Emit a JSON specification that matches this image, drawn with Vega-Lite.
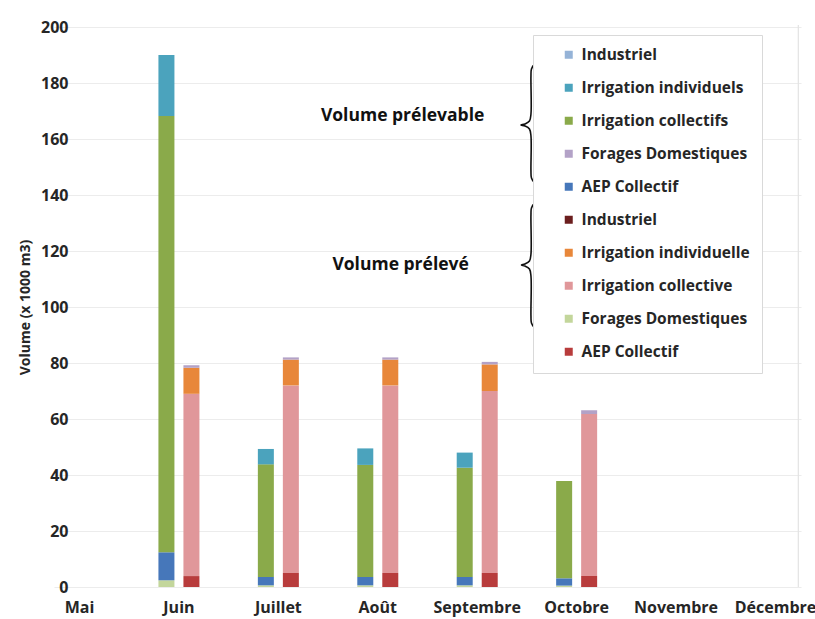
{
  "$schema": "https://vega.github.io/schema/vega-lite/v6.json",
  "width": 726,
  "height": 560,
  "autosize": {"type": "none"},
  "padding": {"left": 75, "top": 27, "right": 14, "bottom": 32},
  "background": "white",
  "config": {
    "view": {"stroke": null},
    "font": "Open Sans",
    "axis": {"labelFont": "Open Sans", "titleFont": "Open Sans"},
    "legend": {"labelFont": "Open Sans"}
  },
  "datasets": {
    "volumes": [
      {"mois": "Juin", "volume": "prélevable", "serie": "Forages Domestiques | prélevé", "valeur": 2.4},
      {"mois": "Juin", "volume": "prélevable", "serie": "AEP Collectif | prélevable", "valeur": 10.0},
      {"mois": "Juin", "volume": "prélevable", "serie": "Irrigation collectifs | prélevable", "valeur": 155.8},
      {"mois": "Juin", "volume": "prélevable", "serie": "Irrigation individuels | prélevable", "valeur": 21.8},
      {"mois": "Juillet", "volume": "prélevable", "serie": "Forages Domestiques | prélevé", "valeur": 0.6},
      {"mois": "Juillet", "volume": "prélevable", "serie": "AEP Collectif | prélevable", "valeur": 3.0},
      {"mois": "Juillet", "volume": "prélevable", "serie": "Irrigation collectifs | prélevable", "valeur": 40.2},
      {"mois": "Juillet", "volume": "prélevable", "serie": "Irrigation individuels | prélevable", "valeur": 5.5},
      {"mois": "Août", "volume": "prélevable", "serie": "Forages Domestiques | prélevé", "valeur": 0.6},
      {"mois": "Août", "volume": "prélevable", "serie": "AEP Collectif | prélevable", "valeur": 3.0},
      {"mois": "Août", "volume": "prélevable", "serie": "Irrigation collectifs | prélevable", "valeur": 40.0},
      {"mois": "Août", "volume": "prélevable", "serie": "Irrigation individuels | prélevable", "valeur": 5.9},
      {"mois": "Septembre", "volume": "prélevable", "serie": "Forages Domestiques | prélevé", "valeur": 0.6},
      {"mois": "Septembre", "volume": "prélevable", "serie": "AEP Collectif | prélevable", "valeur": 3.0},
      {"mois": "Septembre", "volume": "prélevable", "serie": "Irrigation collectifs | prélevable", "valeur": 39.0},
      {"mois": "Septembre", "volume": "prélevable", "serie": "Irrigation individuels | prélevable", "valeur": 5.4},
      {"mois": "Octobre", "volume": "prélevable", "serie": "Forages Domestiques | prélevé", "valeur": 0.5},
      {"mois": "Octobre", "volume": "prélevable", "serie": "AEP Collectif | prélevable", "valeur": 2.6},
      {"mois": "Octobre", "volume": "prélevable", "serie": "Irrigation collectifs | prélevable", "valeur": 34.8},
      {"mois": "Juin", "volume": "prélevé", "serie": "AEP Collectif | prélevé", "valeur": 3.9},
      {"mois": "Juin", "volume": "prélevé", "serie": "Irrigation collective | prélevé", "valeur": 65.1},
      {"mois": "Juin", "volume": "prélevé", "serie": "Irrigation individuelle | prélevé", "valeur": 9.3},
      {"mois": "Juin", "volume": "prélevé", "serie": "Forages Domestiques | prélevable", "valeur": 0.9},
      {"mois": "Juillet", "volume": "prélevé", "serie": "AEP Collectif | prélevé", "valeur": 5.0},
      {"mois": "Juillet", "volume": "prélevé", "serie": "Irrigation collective | prélevé", "valeur": 67.0},
      {"mois": "Juillet", "volume": "prélevé", "serie": "Irrigation individuelle | prélevé", "valeur": 9.2},
      {"mois": "Juillet", "volume": "prélevé", "serie": "Forages Domestiques | prélevable", "valeur": 0.8},
      {"mois": "Août", "volume": "prélevé", "serie": "AEP Collectif | prélevé", "valeur": 5.0},
      {"mois": "Août", "volume": "prélevé", "serie": "Irrigation collective | prélevé", "valeur": 67.0},
      {"mois": "Août", "volume": "prélevé", "serie": "Irrigation individuelle | prélevé", "valeur": 9.2},
      {"mois": "Août", "volume": "prélevé", "serie": "Forages Domestiques | prélevable", "valeur": 0.8},
      {"mois": "Septembre", "volume": "prélevé", "serie": "AEP Collectif | prélevé", "valeur": 5.0},
      {"mois": "Septembre", "volume": "prélevé", "serie": "Irrigation collective | prélevé", "valeur": 65.0},
      {"mois": "Septembre", "volume": "prélevé", "serie": "Irrigation individuelle | prélevé", "valeur": 9.5},
      {"mois": "Septembre", "volume": "prélevé", "serie": "Forages Domestiques | prélevable", "valeur": 0.9},
      {"mois": "Octobre", "volume": "prélevé", "serie": "AEP Collectif | prélevé", "valeur": 3.9},
      {"mois": "Octobre", "volume": "prélevé", "serie": "Irrigation collective | prélevé", "valeur": 57.9},
      {"mois": "Octobre", "volume": "prélevé", "serie": "Forages Domestiques | prélevable", "valeur": 1.3}
    ],
    "series": [
      {"serie": "Industriel | prélevable", "rang": 1},
      {"serie": "Irrigation individuels | prélevable", "rang": 2},
      {"serie": "Irrigation collectifs | prélevable", "rang": 3},
      {"serie": "Forages Domestiques | prélevable", "rang": 4},
      {"serie": "AEP Collectif | prélevable", "rang": 5},
      {"serie": "Industriel | prélevé", "rang": 6},
      {"serie": "Irrigation individuelle | prélevé", "rang": 7},
      {"serie": "Irrigation collective | prélevé", "rang": 8},
      {"serie": "Forages Domestiques | prélevé", "rang": 9},
      {"serie": "AEP Collectif | prélevé", "rang": 10}
    ],
    "accolades": [
      {"accolade": "prélevable", "k": 4.6314, "v": 187.14},
      {"accolade": "prélevable", "k": 4.5761, "v": 186.61},
      {"accolade": "prélevable", "k": 4.5459, "v": 185.0},
      {"accolade": "prélevable", "k": 4.5409, "v": 182.5},
      {"accolade": "prélevable", "k": 4.5409, "v": 168.93},
      {"accolade": "prélevable", "k": 4.5258, "v": 166.43},
      {"accolade": "prélevable", "k": 4.4805, "v": 165.36},
      {"accolade": "prélevable", "k": 4.4403, "v": 165.0},
      {"accolade": "prélevable", "k": 4.4805, "v": 164.64},
      {"accolade": "prélevable", "k": 4.5258, "v": 163.57},
      {"accolade": "prélevable", "k": 4.5409, "v": 161.07},
      {"accolade": "prélevable", "k": 4.5409, "v": 148.57},
      {"accolade": "prélevable", "k": 4.5459, "v": 146.07},
      {"accolade": "prélevable", "k": 4.5761, "v": 144.46},
      {"accolade": "prélevable", "k": 4.6314, "v": 143.93},
      {"accolade": "prélevé", "k": 4.6314, "v": 137.5},
      {"accolade": "prélevé", "k": 4.5761, "v": 136.96},
      {"accolade": "prélevé", "k": 4.5459, "v": 135.36},
      {"accolade": "prélevé", "k": 4.5409, "v": 132.86},
      {"accolade": "prélevé", "k": 4.5409, "v": 118.93},
      {"accolade": "prélevé", "k": 4.5258, "v": 116.43},
      {"accolade": "prélevé", "k": 4.4805, "v": 115.36},
      {"accolade": "prélevé", "k": 4.4453, "v": 115.0},
      {"accolade": "prélevé", "k": 4.4805, "v": 114.64},
      {"accolade": "prélevé", "k": 4.5258, "v": 113.57},
      {"accolade": "prélevé", "k": 4.5409, "v": 111.07},
      {"accolade": "prélevé", "k": 4.5409, "v": 96.79},
      {"accolade": "prélevé", "k": 4.5459, "v": 94.29},
      {"accolade": "prélevé", "k": 4.5761, "v": 92.68},
      {"accolade": "prélevé", "k": 4.6314, "v": 92.14}
    ]
  },
  "layer": [
    {
      "data": {"name": "volumes"},
      "transform": [
        {"lookup": "serie", "from": {"data": {"name": "series"}, "key": "serie", "fields": ["rang"]}}
      ],
      "mark": {"type": "bar"},
      "encoding": {
        "x": {
          "field": "mois",
          "type": "nominal",
          "sort": ["Mai", "Juin", "Juillet", "Août", "Septembre", "Octobre", "Novembre", "Décembre"],
          "scale": {
            "domain": ["Mai", "Juin", "Juillet", "Août", "Septembre", "Octobre", "Novembre", "Décembre"],
            "range": [-21, 726],
            "paddingInner": 0.487,
            "paddingOuter": 0
          },
          "axis": {
            "title": null,
            "labelAngle": 0,
            "labelFontSize": 16,
            "labelFontWeight": "bold",
            "labelColor": "#262626",
            "labelPadding": 12,
            "ticks": false,
            "domain": false
          }
        },
        "xOffset": {
          "field": "volume",
          "type": "nominal",
          "sort": ["prélevable", "prélevé"],
          "scale": {"paddingInner": 0.36, "paddingOuter": 0.2}
        },
        "y": {
          "field": "valeur",
          "type": "quantitative",
          "stack": "zero",
          "title": "Volume (x 1000 m3)",
          "scale": {"domain": [0, 200]},
          "axis": {
            "values": [0, 20, 40, 60, 80, 100, 120, 140, 160, 180, 200],
            "labelFontSize": 16,
            "labelFontWeight": "bold",
            "labelColor": "#262626",
            "labelPadding": 7,
            "ticks": false,
            "domain": false,
            "gridColor": "#ececec",
            "gridWidth": 1.2,
            "titleFontSize": 14,
            "titleFontWeight": "bold",
            "titleColor": "#262626",
            "titlePadding": 8
          }
        },
        "color": {
          "field": "serie",
          "type": "nominal",
          "scale": {
            "domain": [
              "Industriel | prélevable",
              "Irrigation individuels | prélevable",
              "Irrigation collectifs | prélevable",
              "Forages Domestiques | prélevable",
              "AEP Collectif | prélevable",
              "Industriel | prélevé",
              "Irrigation individuelle | prélevé",
              "Irrigation collective | prélevé",
              "Forages Domestiques | prélevé",
              "AEP Collectif | prélevé"
            ],
            "range": ["#95b3d7", "#4ba3bd", "#8aaa4a", "#b3a2c7", "#4677ba", "#6b1e1e", "#e8873a", "#e0979a", "#c3d69b", "#b83c3c"]
          },
          "legend": {
            "title": null,
            "orient": "none",
            "legendX": 458,
            "legendY": 8,
            "direction": "vertical",
            "symbolType": "square",
            "symbolSize": 64,
            "symbolStrokeWidth": 0,
            "symbolOffset": 16,
            "labelFontSize": 15.5,
            "labelFontWeight": "bold",
            "labelColor": "#262626",
            "labelOffset": 5,
            "labelLimit": 300,
            "rowPadding": 16,
            "padding": 12,
            "fillColor": "white",
            "strokeColor": "#d9d9d9",
            "labelExpr": "split(datum.label, ' | ')[0]"
          }
        },
        "order": {"field": "rang", "sort": "descending"}
      }
    },
    {
      "layer": [
        {
          "data": {"name": "accolades"},
          "mark": {"type": "line", "interpolate": "catmull-rom", "color": "#111111", "strokeWidth": 1.6},
          "encoding": {
            "x": {"field": "k", "type": "quantitative", "scale": {"domain": [-0.0453, 7.257], "nice": false, "zero": false}, "axis": null},
            "y": {"field": "v", "type": "quantitative", "title": "Volume (x 1000 m3)"},
            "detail": {"field": "accolade"},
            "order": {"value": null}
          }
        },
        {
          "data": {"values": [{}]},
          "mark": {"type": "text", "font": "Open Sans", "fontSize": 17.5, "fontWeight": "bold", "color": "#111111", "align": "center", "baseline": "middle"},
          "encoding": {
            "x": {"datum": 3.25, "type": "quantitative"},
            "y": {"datum": 168.2, "type": "quantitative"},
            "text": {"value": "Volume prélevable"}
          }
        },
        {
          "data": {"values": [{}]},
          "mark": {"type": "text", "font": "Open Sans", "fontSize": 17.5, "fontWeight": "bold", "color": "#111111", "align": "center", "baseline": "middle"},
          "encoding": {
            "x": {"datum": 3.23, "type": "quantitative"},
            "y": {"datum": 115, "type": "quantitative"},
            "text": {"value": "Volume prélevé"}
          }
        },
        {
          "data": {"values": [{}]},
          "mark": {"type": "rule", "color": "#e3e3e3", "strokeWidth": 1.2},
          "encoding": {
            "x": {"datum": 7.23, "type": "quantitative"},
            "y": {"datum": 0, "type": "quantitative"},
            "y2": {"datum": 200.7}
          }
        }
      ]
    }
  ],
  "resolve": {"scale": {"x": "independent"}}
}
